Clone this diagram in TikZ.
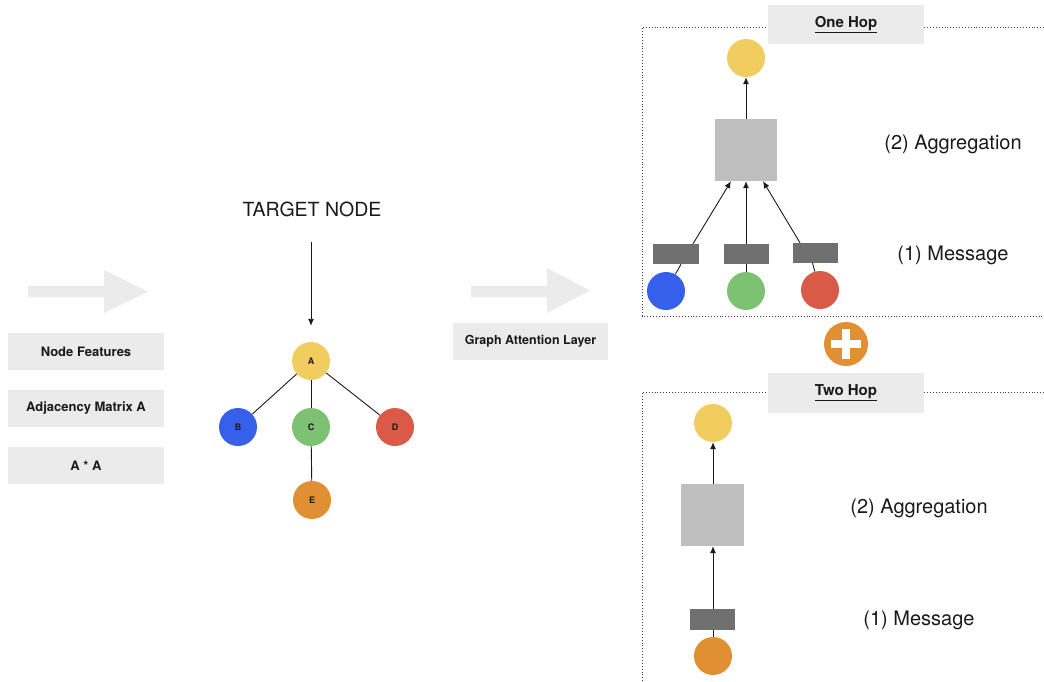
\documentclass[tikz,border=0pt]{standalone}
\usepackage{fontspec}
\setmainfont{TeX Gyre Heros}
\usetikzlibrary{arrows.meta}
\definecolor{boxgray}{HTML}{EBEBEB}
\definecolor{agggray}{HTML}{BFBFBF}
\definecolor{msggray}{HTML}{707070}
\definecolor{cyellow}{HTML}{F0CD5E}
\definecolor{cblue}{HTML}{3660E9}
\definecolor{cgreen}{HTML}{7DC272}
\definecolor{cred}{HTML}{D95A47}
\definecolor{corange}{HTML}{E08F33}
\definecolor{txt}{HTML}{1A1A1A}
\tikzset{
  labelbox/.style={fill=boxgray, minimum width=156pt, minimum height=37pt, inner sep=0pt, font=\bfseries\fontsize{13}{15}\selectfont, text=txt},
  hopbox/.style={fill=boxgray, minimum width=156pt, minimum height=39pt, inner sep=0pt, font=\bfseries\fontsize{15}{17}\selectfont, text=txt},
  gnode/.style={circle, minimum size=38pt, inner sep=0pt, font=\bfseries\fontsize{9}{10}\selectfont, text=txt},
  aggbox/.style={fill=agggray, minimum width=62pt, minimum height=62pt, inner sep=0pt},
  msgbox/.style={fill=msggray, minimum width=45pt, minimum height=20pt, inner sep=0pt},
  bigtext/.style={font=\fontsize{20}{24}\selectfont, text=txt, inner sep=0pt},
  edge/.style={draw=txt, line width=0.9pt},
  arr/.style={draw=txt, line width=0.9pt, -{Latex[length=7pt,width=6pt]}},
  blockarrow/.style={fill=boxgray},
  panel/.style={draw=black!75, dotted, line width=0.9pt}
}
\begin{document}
\begin{tikzpicture}[x=1pt,y=-1pt]
\useasboundingbox (0,0) rectangle (1044,681);
% block arrows
\fill[blockarrow] (28,286) -- (104,286) -- (104,270) -- (148,291.5) -- (104,313) -- (104,297) -- (28,297) -- cycle;
\fill[blockarrow] (471,286) -- (547,286) -- (547,268) -- (590,290.5) -- (547,313) -- (547,297) -- (471,297) -- cycle;
% left label boxes
\node[labelbox] (nf) at (86,351.5) {Node Features};
\node[labelbox] (adj) at (86,408.5) {Adjacency Matrix A};
\node[labelbox] (aa) at (86,465.5) {A * A};
% graph
\node[bigtext, font=\fontsize{19.5}{23}\selectfont] (target) at (312,209) {TARGET NODE};
\coordinate (tstart) at (311,242);
\node[gnode, fill=cyellow] (A) at (311,361) {A};
\node[gnode, fill=cblue] (B) at (238,427) {B};
\node[gnode, fill=cgreen] (C) at (311,427) {C};
\node[gnode, fill=cred] (D) at (395,427) {D};
\node[gnode, fill=corange] (E) at (312,500) {E};
\draw[arr] (tstart) -- ([yshift=16pt]A.north);
\draw[edge] (A) -- (B);
\draw[edge] (A) -- (C);
\draw[edge] (A) -- (D);
\draw[edge] (C) -- (E);
% middle box
\node[labelbox, minimum width=155pt, font=\bfseries\fontsize{12.5}{14}\selectfont] (gat) at (530.5,341.5) {Graph Attention Layer};
% one hop panel
\draw[panel] (1044,27) -- (642,27) -- (642,316) -- (1044,316);
\node[hopbox] (one) at (846,24.5) {\underline{One Hop}};
\node[gnode, fill=cyellow] (y1) at (746,58) {};
\node[aggbox] (agg1) at (746,150) {};
\node[msgbox, minimum width=46pt] (m1) at (676,254) {};
\node[msgbox] (m2) at (746.5,254) {};
\node[msgbox] (m3) at (815.5,253) {};
\node[gnode, fill=cblue] (b1) at (666,291) {};
\node[gnode, fill=cgreen] (g1) at (746,291) {};
\node[gnode, fill=cred] (r1) at (820,290) {};
\draw[edge] (b1) -- ([xshift=5pt]m1.south);
\draw[edge] (g1) -- (g1 |- m2.south);
\draw[edge] (r1) -- ([xshift=-3pt]m3.south);
\draw[arr] ([xshift=17pt]m1.north) -- ([xshift=-15pt]agg1.south);
\draw[arr] (m2.north -| agg1.south) -- (agg1.south);
\draw[arr] ([xshift=-15.5pt]m3.north) -- ([xshift=17pt]agg1.south);
\draw[arr] (agg1.north) -- (y1.south);
\node[bigtext] (agglab1) at (953,144) {(2) Aggregation};
\node[bigtext] (msglab1) at (953,255) {(1) Message};
% plus
\node[circle, fill=corange, minimum size=44pt, inner sep=0pt] (plus) at (846,344) {};
\draw[white, line width=7.5pt] ([xshift=-15pt]plus.center) -- ([xshift=15pt]plus.center);
\draw[white, line width=7.5pt] ([yshift=-15pt]plus.center) -- ([yshift=15pt]plus.center);
% two hop panel
\draw[panel] (1044,392) -- (642,392) -- (642,681);
\node[hopbox, minimum height=40pt] (two) at (846,393) {\underline{Two Hop}};
\node[gnode, fill=cyellow] (y2) at (713,423) {};
\node[aggbox, minimum width=63pt] (agg2) at (712.5,515) {};
\node[msgbox, minimum height=21pt] (m4) at (712.5,619.5) {};
\node[gnode, fill=corange] (o2) at (713,656) {};
\draw[edge] (o2) -- (o2 |- m4.south);
\draw[arr] (m4.north -| o2.north) -- (agg2.south -| o2.north);
\draw[arr] (agg2.north -| o2.north) -- (y2.south);
\node[bigtext] (agglab2) at (919,508) {(2) Aggregation};
\node[bigtext] (msglab2) at (919,620) {(1) Message};
\end{tikzpicture}
\end{document}
